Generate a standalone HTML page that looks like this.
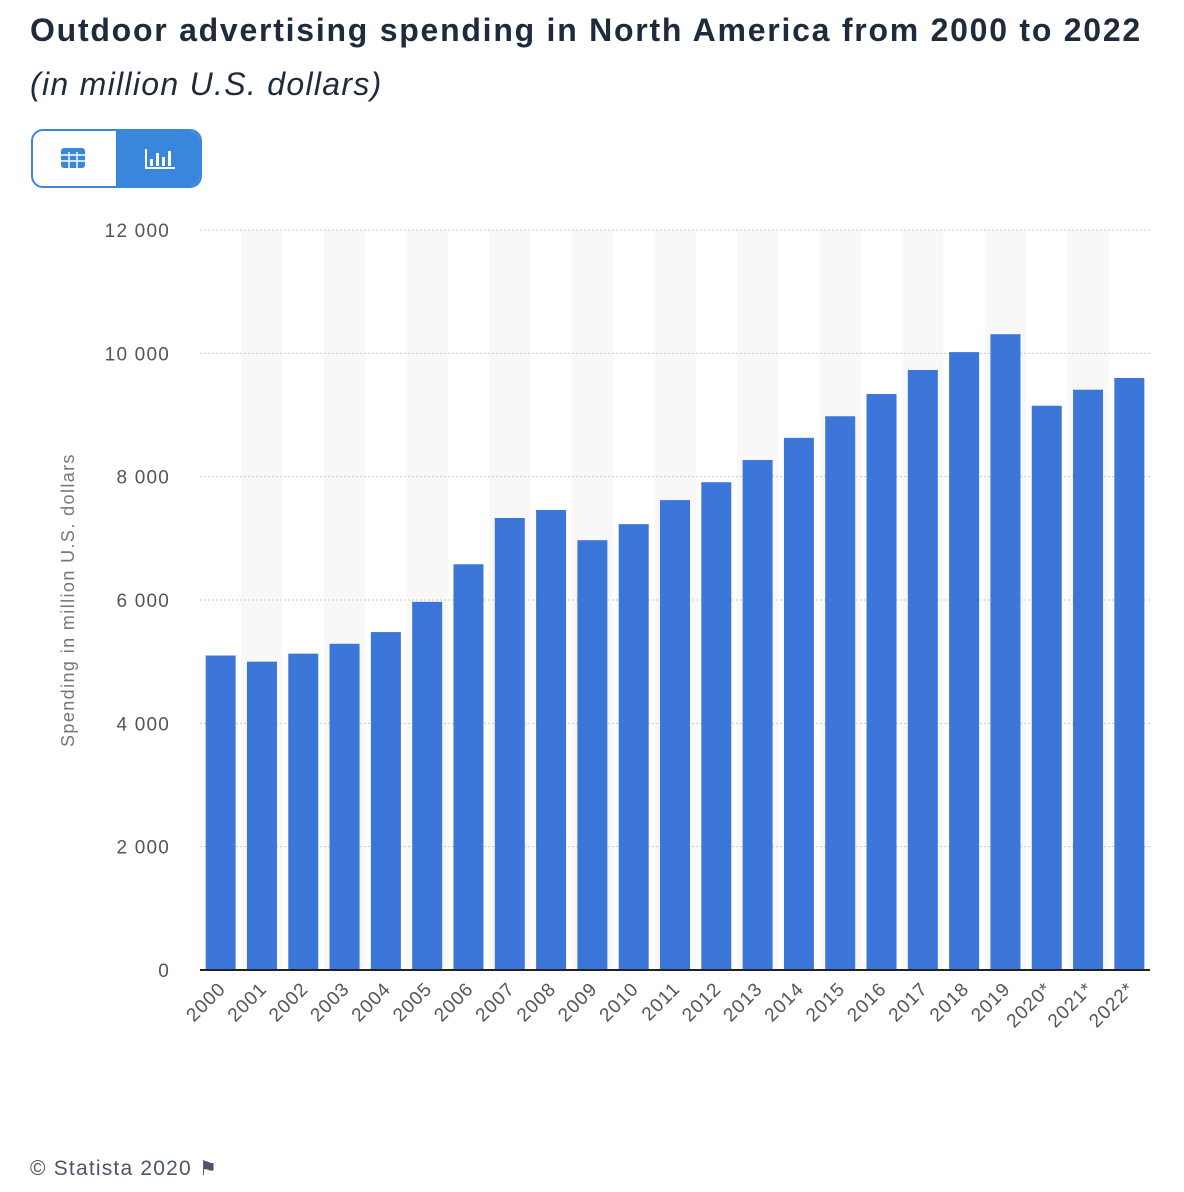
<!DOCTYPE html>
<html><head><meta charset="utf-8"><style>
body{margin:0;width:1184px;height:1192px;background:#fff;font-family:"Liberation Sans",sans-serif;position:relative;overflow:hidden}
h1{position:absolute;left:30px;top:12px;margin:0;font-size:32px;font-weight:bold;color:#1e2b3c;letter-spacing:1.75px;white-space:nowrap}
.sub{position:absolute;left:30px;top:66px;font-size:32px;font-style:italic;color:#1e2b3c;letter-spacing:1.3px}
.tog{position:absolute;left:31px;top:129px;width:171px;height:59px;border:2px solid #3a86dd;border-radius:12px;overflow:hidden;box-sizing:border-box}
.tog .r{position:absolute;left:83px;top:0;right:0;bottom:0;background:#3a86dd}
.foot{position:absolute;left:30px;top:1156px;font-size:21px;color:#4a5566;letter-spacing:1.2px}
</style></head><body>
<h1>Outdoor advertising spending in North America from 2000 to 2022</h1>
<div class="sub">(in million U.S. dollars)</div>
<div class="tog">
<svg style="position:absolute;left:28px;top:17px" width="26" height="22"><rect x="0" y="0" width="24" height="20" rx="3" fill="#3a86dd"/><g stroke="#fff" stroke-width="1.5"><line x1="0" y1="7" x2="24" y2="7"/><line x1="0" y1="13" x2="24" y2="13"/><line x1="8" y1="4" x2="8" y2="20"/><line x1="16" y1="4" x2="16" y2="20"/></g></svg>
<div class="r"><svg style="position:absolute;left:28px;top:16px" width="32" height="24"><g fill="#fff"><rect x="1" y="2" width="2" height="20"/><rect x="1" y="20" width="30" height="2"/><rect x="6" y="12" width="3" height="7"/><rect x="12" y="6" width="3" height="13"/><rect x="18" y="10" width="3" height="9"/><rect x="24" y="4" width="3" height="15"/></g></svg></div>
</div>
<svg id="chart" width="1184" height="1192" style="position:absolute;left:0;top:0"></svg>
<div class="foot">© Statista 2020 <span style="font-size:20px">⚑</span></div>
<script>
const categories=["2000","2001","2002","2003","2004","2005","2006","2007","2008","2009","2010","2011","2012","2013","2014","2015","2016","2017","2018","2019","2020*","2021*","2022*"];
const values=[5100,5000,5130,5290,5480,5970,6580,7330,7460,6970,7230,7620,7910,8270,8630,8980,9340,9730,10020,10310,9150,9410,9600];
const yTicks=[0,2000,4000,6000,8000,10000,12000];
const yTickLabels=["0","2 000","4 000","6 000","8 000","10 000","12 000"];
const NS="http://www.w3.org/2000/svg";
const svg=document.getElementById('chart');
const L=200,R=1150,T=230,B=970,YMAX=12000;
const slot=(R-L)/categories.length;
const x=i=>L+i*slot;
const y=v=>B-(v/YMAX)*(B-T);
function mk(t,a){const e=document.createElementNS(NS,t);for(const k in a)e.setAttribute(k,a[k]);svg.appendChild(e);return e;}
categories.forEach((c,i)=>{if(i%2===1){const s=mk('rect',{x:x(i),y:T,width:slot,height:B-T,fill:'#f8f8f8'});

}});
yTicks.forEach((t,i)=>{
 if(t>0){const g=mk('line',{x1:L,x2:R,y1:y(t),y2:y(t),stroke:'#c8c8c8','stroke-dasharray':'2,2'});
 
 }
 const tx=mk('text',{x:170,y:y(t)+7,'text-anchor':'end','font-size':19,'letter-spacing':1.2,fill:'#555','font-family':'Liberation Sans,sans-serif'});
 tx.textContent=yTickLabels[i];
 
 
});
categories.forEach((c,i)=>{
 const bw=30,cx=x(i)+slot/2;
 const b=mk('rect',{x:cx-bw/2,y:y(values[i]),width:bw,height:B-y(values[i]),fill:'#3d76d9'});
 
 
 const t=mk('text',{x:cx+6,y:B+20,'text-anchor':'end','font-size':19,'letter-spacing':1,fill:'#555','font-family':'Liberation Sans,sans-serif',transform:`rotate(-45 ${cx+6} ${B+20})`});
 t.textContent=c;
 
 
});
const ax=mk('line',{x1:L,x2:R,y1:B,y2:B,stroke:'#222','stroke-width':2});


const yt=mk('text',{x:74,y:600,'text-anchor':'middle','font-size':18,'letter-spacing':1.4,fill:'#777','font-family':'Liberation Sans,sans-serif',transform:'rotate(-90 74 600)'});
yt.textContent='Spending in million U.S. dollars';


</script>
</body></html>
